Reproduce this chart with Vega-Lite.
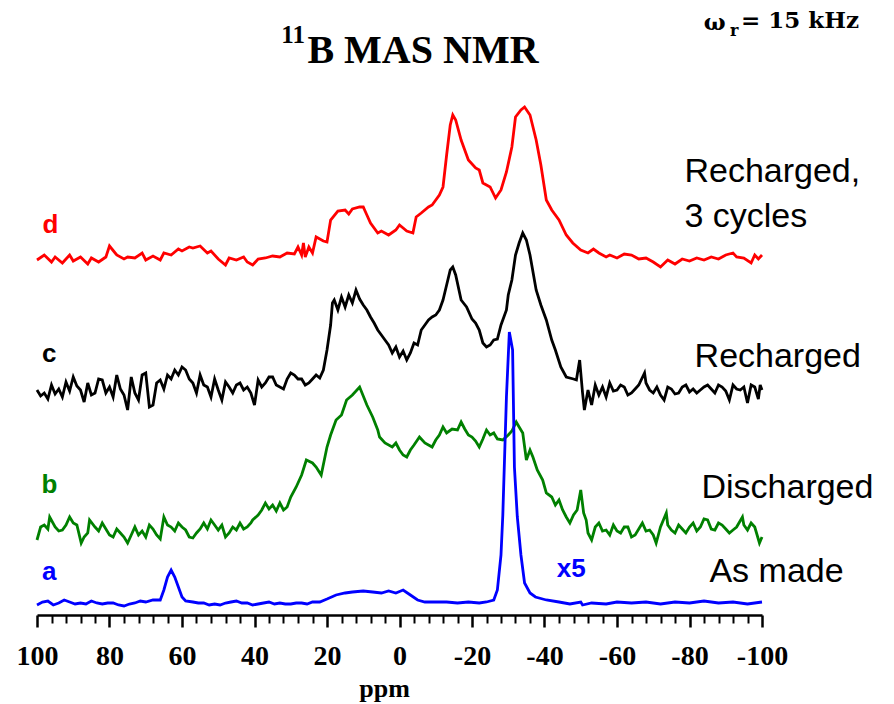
{
  "$schema": "https://vega.github.io/schema/vega-lite/v6.json",
  "width": 725,
  "height": 615,
  "autosize": "none",
  "padding": {"left": 37, "top": 0, "right": 132, "bottom": 89},
  "background": "white",
  "config": {"view": {"stroke": null}},
  "datasets": {
    "spectra": [
      {"s":"d","ppm":100,"h":355},{"s":"d","ppm":98,"h":360},{"s":"d","ppm":96,"h":353},{"s":"d","ppm":95,"h":358},{"s":"d","ppm":93,"h":352},{"s":"d","ppm":91,"h":360},{"s":"d","ppm":90,"h":354},{"s":"d","ppm":88,"h":358},{"s":"d","ppm":86,"h":351},{"s":"d","ppm":85,"h":357},{"s":"d","ppm":83,"h":353},{"s":"d","ppm":81,"h":358},{"s":"d","ppm":80,"h":369},{"s":"d","ppm":78,"h":360},{"s":"d","ppm":76,"h":356},{"s":"d","ppm":75,"h":358},{"s":"d","ppm":73,"h":357},{"s":"d","ppm":71,"h":362},{"s":"d","ppm":70,"h":355},{"s":"d","ppm":68,"h":359},{"s":"d","ppm":66,"h":355},{"s":"d","ppm":65,"h":362},{"s":"d","ppm":63,"h":360},{"s":"d","ppm":61,"h":366},{"s":"d","ppm":60,"h":364},{"s":"d","ppm":58,"h":368},{"s":"d","ppm":57,"h":367},{"s":"d","ppm":55,"h":369},{"s":"d","ppm":53,"h":362},{"s":"d","ppm":52,"h":364},{"s":"d","ppm":50,"h":356},{"s":"d","ppm":48,"h":350},{"s":"d","ppm":47,"h":357},{"s":"d","ppm":45,"h":355},{"s":"d","ppm":43,"h":358},{"s":"d","ppm":42,"h":353},{"s":"d","ppm":40.5,"h":350},{"s":"d","ppm":39,"h":356},{"s":"d","ppm":37,"h":357},{"s":"d","ppm":35,"h":359},{"s":"d","ppm":33,"h":358},{"s":"d","ppm":31,"h":362},{"s":"d","ppm":29,"h":361},{"s":"d","ppm":28,"h":368},{"s":"d","ppm":27,"h":360},{"s":"d","ppm":26.5,"h":372},{"s":"d","ppm":26,"h":358},{"s":"d","ppm":25,"h":368},{"s":"d","ppm":24,"h":362},{"s":"d","ppm":23,"h":378},{"s":"d","ppm":21,"h":374},{"s":"d","ppm":20,"h":373},{"s":"d","ppm":19,"h":395},{"s":"d","ppm":17,"h":404},{"s":"d","ppm":15,"h":405},{"s":"d","ppm":14,"h":401},{"s":"d","ppm":13,"h":406},{"s":"d","ppm":11,"h":408},{"s":"d","ppm":10,"h":408},{"s":"d","ppm":9,"h":400},{"s":"d","ppm":8,"h":392},{"s":"d","ppm":6,"h":382},{"s":"d","ppm":5,"h":384},{"s":"d","ppm":3,"h":380},{"s":"d","ppm":1,"h":385},{"s":"d","ppm":0,"h":390},{"s":"d","ppm":-2,"h":384},{"s":"d","ppm":-3.7,"h":382},{"s":"d","ppm":-4.6,"h":398},{"s":"d","ppm":-6,"h":402},{"s":"d","ppm":-8,"h":408},{"s":"d","ppm":-9,"h":410},{"s":"d","ppm":-11,"h":420},{"s":"d","ppm":-12,"h":428},{"s":"d","ppm":-13,"h":460},{"s":"d","ppm":-14,"h":490},{"s":"d","ppm":-14.7,"h":500},{"s":"d","ppm":-15.5,"h":495},{"s":"d","ppm":-17,"h":475},{"s":"d","ppm":-19,"h":455},{"s":"d","ppm":-21,"h":447},{"s":"d","ppm":-22,"h":445},{"s":"d","ppm":-23,"h":432},{"s":"d","ppm":-25,"h":428},{"s":"d","ppm":-26.5,"h":417},{"s":"d","ppm":-28,"h":425},{"s":"d","ppm":-29.5,"h":443},{"s":"d","ppm":-31,"h":468},{"s":"d","ppm":-32,"h":498},{"s":"d","ppm":-33.5,"h":505},{"s":"d","ppm":-34.5,"h":508},{"s":"d","ppm":-36,"h":500},{"s":"d","ppm":-37.7,"h":475},{"s":"d","ppm":-39,"h":450},{"s":"d","ppm":-40.5,"h":415},{"s":"d","ppm":-42,"h":405},{"s":"d","ppm":-44,"h":395},{"s":"d","ppm":-46,"h":380},{"s":"d","ppm":-47.8,"h":372},{"s":"d","ppm":-50,"h":365},{"s":"d","ppm":-52,"h":362},{"s":"d","ppm":-53.5,"h":366},{"s":"d","ppm":-55,"h":362},{"s":"d","ppm":-57,"h":358},{"s":"d","ppm":-58,"h":360},{"s":"d","ppm":-60,"h":357},{"s":"d","ppm":-62,"h":361},{"s":"d","ppm":-64,"h":360},{"s":"d","ppm":-66,"h":356},{"s":"d","ppm":-68,"h":357},{"s":"d","ppm":-70,"h":353},{"s":"d","ppm":-72,"h":348},{"s":"d","ppm":-74,"h":355},{"s":"d","ppm":-76,"h":351},{"s":"d","ppm":-78,"h":356},{"s":"d","ppm":-80,"h":354},{"s":"d","ppm":-82,"h":357},{"s":"d","ppm":-84,"h":355},{"s":"d","ppm":-86,"h":358},{"s":"d","ppm":-88,"h":356},{"s":"d","ppm":-90,"h":360},{"s":"d","ppm":-92,"h":362},{"s":"d","ppm":-93,"h":358},{"s":"d","ppm":-95,"h":357},{"s":"d","ppm":-97,"h":352},{"s":"d","ppm":-98,"h":360},{"s":"d","ppm":-99,"h":356},{"s":"d","ppm":-100,"h":360},

      {"s":"c","ppm":100,"h":225},{"s":"c","ppm":99,"h":219},{"s":"c","ppm":98,"h":222},{"s":"c","ppm":97,"h":216},{"s":"c","ppm":96,"h":230},{"s":"c","ppm":95,"h":221},{"s":"c","ppm":94,"h":226},{"s":"c","ppm":93,"h":218},{"s":"c","ppm":92,"h":233},{"s":"c","ppm":91,"h":224},{"s":"c","ppm":90,"h":238},{"s":"c","ppm":89,"h":229},{"s":"c","ppm":88,"h":225},{"s":"c","ppm":87,"h":213},{"s":"c","ppm":86,"h":232},{"s":"c","ppm":85,"h":220},{"s":"c","ppm":84,"h":222},{"s":"c","ppm":83,"h":236},{"s":"c","ppm":82,"h":235},{"s":"c","ppm":81,"h":222},{"s":"c","ppm":80,"h":228},{"s":"c","ppm":79,"h":218},{"s":"c","ppm":78,"h":240},{"s":"c","ppm":77,"h":226},{"s":"c","ppm":76,"h":220},{"s":"c","ppm":75,"h":205},{"s":"c","ppm":74,"h":238},{"s":"c","ppm":73,"h":222},{"s":"c","ppm":72,"h":215},{"s":"c","ppm":71,"h":240},{"s":"c","ppm":70,"h":242},{"s":"c","ppm":69,"h":208},{"s":"c","ppm":68,"h":210},{"s":"c","ppm":67,"h":232},{"s":"c","ppm":66,"h":235},{"s":"c","ppm":65,"h":226},{"s":"c","ppm":64,"h":240},{"s":"c","ppm":63,"h":236},{"s":"c","ppm":62,"h":245},{"s":"c","ppm":61,"h":240},{"s":"c","ppm":60,"h":248},{"s":"c","ppm":59,"h":245},{"s":"c","ppm":58,"h":236},{"s":"c","ppm":57,"h":232},{"s":"c","ppm":56,"h":222},{"s":"c","ppm":55,"h":240},{"s":"c","ppm":54,"h":230},{"s":"c","ppm":53,"h":228},{"s":"c","ppm":52,"h":218},{"s":"c","ppm":51,"h":236},{"s":"c","ppm":50,"h":225},{"s":"c","ppm":49,"h":215},{"s":"c","ppm":48,"h":233},{"s":"c","ppm":47,"h":228},{"s":"c","ppm":46,"h":222},{"s":"c","ppm":45,"h":230},{"s":"c","ppm":44,"h":232},{"s":"c","ppm":43,"h":225},{"s":"c","ppm":42,"h":228},{"s":"c","ppm":41,"h":222},{"s":"c","ppm":40,"h":210},{"s":"c","ppm":39,"h":235},{"s":"c","ppm":38,"h":228},{"s":"c","ppm":37,"h":232},{"s":"c","ppm":36,"h":238},{"s":"c","ppm":35,"h":238},{"s":"c","ppm":34,"h":230},{"s":"c","ppm":33,"h":228},{"s":"c","ppm":32,"h":226},{"s":"c","ppm":31,"h":236},{"s":"c","ppm":30,"h":242},{"s":"c","ppm":29,"h":240},{"s":"c","ppm":28,"h":236},{"s":"c","ppm":27,"h":236},{"s":"c","ppm":26,"h":230},{"s":"c","ppm":25,"h":232},{"s":"c","ppm":24,"h":236},{"s":"c","ppm":23,"h":240},{"s":"c","ppm":22,"h":237},{"s":"c","ppm":21,"h":245},{"s":"c","ppm":20,"h":265},{"s":"c","ppm":19,"h":290},{"s":"c","ppm":18.5,"h":312},{"s":"c","ppm":18,"h":315},{"s":"c","ppm":17,"h":305},{"s":"c","ppm":16,"h":318},{"s":"c","ppm":15,"h":308},{"s":"c","ppm":14,"h":320},{"s":"c","ppm":13,"h":312},{"s":"c","ppm":12,"h":325},{"s":"c","ppm":11,"h":316},{"s":"c","ppm":10,"h":310},{"s":"c","ppm":9,"h":305},{"s":"c","ppm":8,"h":298},{"s":"c","ppm":7,"h":292},{"s":"c","ppm":6,"h":285},{"s":"c","ppm":5,"h":280},{"s":"c","ppm":4,"h":275},{"s":"c","ppm":3,"h":270},{"s":"c","ppm":2,"h":262},{"s":"c","ppm":1,"h":268},{"s":"c","ppm":0,"h":258},{"s":"c","ppm":-1,"h":264},{"s":"c","ppm":-2,"h":255},{"s":"c","ppm":-3,"h":262},{"s":"c","ppm":-4,"h":272},{"s":"c","ppm":-5,"h":270},{"s":"c","ppm":-6,"h":285},{"s":"c","ppm":-7,"h":290},{"s":"c","ppm":-8,"h":295},{"s":"c","ppm":-9,"h":298},{"s":"c","ppm":-10,"h":300},{"s":"c","ppm":-11,"h":305},{"s":"c","ppm":-12,"h":315},{"s":"c","ppm":-13,"h":330},{"s":"c","ppm":-14,"h":345},{"s":"c","ppm":-14.7,"h":348},{"s":"c","ppm":-15.5,"h":340},{"s":"c","ppm":-17,"h":315},{"s":"c","ppm":-18.5,"h":308},{"s":"c","ppm":-20,"h":296},{"s":"c","ppm":-21,"h":292},{"s":"c","ppm":-22,"h":285},{"s":"c","ppm":-23,"h":272},{"s":"c","ppm":-24,"h":268},{"s":"c","ppm":-25,"h":270},{"s":"c","ppm":-26,"h":275},{"s":"c","ppm":-27,"h":276},{"s":"c","ppm":-28,"h":290},{"s":"c","ppm":-29.5,"h":305},{"s":"c","ppm":-30,"h":320},{"s":"c","ppm":-31,"h":335},{"s":"c","ppm":-32,"h":360},{"s":"c","ppm":-33,"h":372},{"s":"c","ppm":-34,"h":382},{"s":"c","ppm":-35,"h":375},{"s":"c","ppm":-36,"h":360},{"s":"c","ppm":-37.7,"h":325},{"s":"c","ppm":-39,"h":310},{"s":"c","ppm":-40.5,"h":295},{"s":"c","ppm":-42,"h":275},{"s":"c","ppm":-43,"h":265},{"s":"c","ppm":-44.5,"h":248},{"s":"c","ppm":-46,"h":238},{"s":"c","ppm":-48,"h":236},{"s":"c","ppm":-48.8,"h":235},{"s":"c","ppm":-49.7,"h":255},{"s":"c","ppm":-50.5,"h":222},{"s":"c","ppm":-51,"h":205},{"s":"c","ppm":-52,"h":225},{"s":"c","ppm":-53,"h":210},{"s":"c","ppm":-54,"h":230},{"s":"c","ppm":-55,"h":220},{"s":"c","ppm":-56,"h":228},{"s":"c","ppm":-57,"h":218},{"s":"c","ppm":-58,"h":232},{"s":"c","ppm":-59,"h":224},{"s":"c","ppm":-60,"h":225},{"s":"c","ppm":-61,"h":230},{"s":"c","ppm":-62,"h":228},{"s":"c","ppm":-63,"h":220},{"s":"c","ppm":-64,"h":222},{"s":"c","ppm":-65,"h":226},{"s":"c","ppm":-66,"h":230},{"s":"c","ppm":-67.6,"h":242},{"s":"c","ppm":-68,"h":232},{"s":"c","ppm":-69,"h":225},{"s":"c","ppm":-70,"h":222},{"s":"c","ppm":-71,"h":228},{"s":"c","ppm":-72,"h":220},{"s":"c","ppm":-73,"h":215},{"s":"c","ppm":-74,"h":228},{"s":"c","ppm":-75,"h":226},{"s":"c","ppm":-76,"h":221},{"s":"c","ppm":-77,"h":222},{"s":"c","ppm":-78,"h":228},{"s":"c","ppm":-79,"h":230},{"s":"c","ppm":-80,"h":223},{"s":"c","ppm":-81,"h":226},{"s":"c","ppm":-82,"h":222},{"s":"c","ppm":-83,"h":225},{"s":"c","ppm":-84,"h":228},{"s":"c","ppm":-85,"h":230},{"s":"c","ppm":-86,"h":226},{"s":"c","ppm":-87,"h":222},{"s":"c","ppm":-88,"h":230},{"s":"c","ppm":-89,"h":228},{"s":"c","ppm":-90,"h":224},{"s":"c","ppm":-91,"h":215},{"s":"c","ppm":-92,"h":230},{"s":"c","ppm":-93,"h":226},{"s":"c","ppm":-94,"h":225},{"s":"c","ppm":-95,"h":228},{"s":"c","ppm":-96,"h":212},{"s":"c","ppm":-97,"h":230},{"s":"c","ppm":-98,"h":228},{"s":"c","ppm":-99,"h":216},{"s":"c","ppm":-99.5,"h":230},{"s":"c","ppm":-100,"h":225},

      {"s":"b","ppm":100,"h":75},{"s":"b","ppm":99,"h":88},{"s":"b","ppm":98,"h":90},{"s":"b","ppm":97,"h":86},{"s":"b","ppm":96.5,"h":98},{"s":"b","ppm":95,"h":88},{"s":"b","ppm":94,"h":84},{"s":"b","ppm":93,"h":85},{"s":"b","ppm":92,"h":90},{"s":"b","ppm":91,"h":98},{"s":"b","ppm":90,"h":92},{"s":"b","ppm":89,"h":90},{"s":"b","ppm":87.8,"h":72},{"s":"b","ppm":87,"h":78},{"s":"b","ppm":86,"h":82},{"s":"b","ppm":85.5,"h":95},{"s":"b","ppm":84,"h":88},{"s":"b","ppm":83,"h":84},{"s":"b","ppm":82,"h":92},{"s":"b","ppm":81,"h":86},{"s":"b","ppm":80,"h":80},{"s":"b","ppm":79,"h":78},{"s":"b","ppm":78,"h":86},{"s":"b","ppm":77,"h":82},{"s":"b","ppm":76,"h":78},{"s":"b","ppm":75,"h":72},{"s":"b","ppm":74,"h":80},{"s":"b","ppm":73,"h":88},{"s":"b","ppm":72,"h":80},{"s":"b","ppm":71,"h":84},{"s":"b","ppm":70,"h":78},{"s":"b","ppm":69,"h":90},{"s":"b","ppm":68,"h":86},{"s":"b","ppm":67,"h":80},{"s":"b","ppm":66,"h":76},{"s":"b","ppm":65,"h":98},{"s":"b","ppm":64,"h":90},{"s":"b","ppm":63,"h":88},{"s":"b","ppm":62,"h":84},{"s":"b","ppm":61,"h":92},{"s":"b","ppm":60,"h":88},{"s":"b","ppm":59,"h":85},{"s":"b","ppm":58,"h":78},{"s":"b","ppm":57,"h":77},{"s":"b","ppm":56,"h":82},{"s":"b","ppm":55,"h":86},{"s":"b","ppm":54,"h":92},{"s":"b","ppm":53,"h":86},{"s":"b","ppm":52,"h":95},{"s":"b","ppm":51,"h":90},{"s":"b","ppm":50,"h":85},{"s":"b","ppm":49,"h":90},{"s":"b","ppm":48,"h":78},{"s":"b","ppm":47,"h":82},{"s":"b","ppm":46,"h":88},{"s":"b","ppm":45,"h":85},{"s":"b","ppm":44,"h":92},{"s":"b","ppm":43,"h":86},{"s":"b","ppm":42,"h":88},{"s":"b","ppm":41,"h":92},{"s":"b","ppm":40.5,"h":95},{"s":"b","ppm":39,"h":100},{"s":"b","ppm":38,"h":105},{"s":"b","ppm":37,"h":112},{"s":"b","ppm":36,"h":106},{"s":"b","ppm":35,"h":110},{"s":"b","ppm":34,"h":104},{"s":"b","ppm":33,"h":112},{"s":"b","ppm":32,"h":105},{"s":"b","ppm":31,"h":108},{"s":"b","ppm":30,"h":118},{"s":"b","ppm":28.5,"h":128},{"s":"b","ppm":27,"h":140},{"s":"b","ppm":25.7,"h":155},{"s":"b","ppm":24,"h":152},{"s":"b","ppm":23,"h":148},{"s":"b","ppm":21.6,"h":140},{"s":"b","ppm":20,"h":168},{"s":"b","ppm":19,"h":180},{"s":"b","ppm":17.5,"h":195},{"s":"b","ppm":16,"h":200},{"s":"b","ppm":14.6,"h":215},{"s":"b","ppm":13,"h":220},{"s":"b","ppm":11,"h":228},{"s":"b","ppm":9,"h":210},{"s":"b","ppm":7.4,"h":198},{"s":"b","ppm":6,"h":185},{"s":"b","ppm":5.5,"h":178},{"s":"b","ppm":4,"h":172},{"s":"b","ppm":2,"h":168},{"s":"b","ppm":1,"h":172},{"s":"b","ppm":0,"h":165},{"s":"b","ppm":-1,"h":160},{"s":"b","ppm":-2,"h":158},{"s":"b","ppm":-3,"h":165},{"s":"b","ppm":-4,"h":170},{"s":"b","ppm":-5.5,"h":178},{"s":"b","ppm":-7,"h":172},{"s":"b","ppm":-8,"h":170},{"s":"b","ppm":-9,"h":168},{"s":"b","ppm":-10,"h":175},{"s":"b","ppm":-11,"h":180},{"s":"b","ppm":-12,"h":188},{"s":"b","ppm":-13,"h":182},{"s":"b","ppm":-14.5,"h":186},{"s":"b","ppm":-16,"h":185},{"s":"b","ppm":-17,"h":193},{"s":"b","ppm":-18,"h":186},{"s":"b","ppm":-19,"h":180},{"s":"b","ppm":-20,"h":178},{"s":"b","ppm":-21,"h":174},{"s":"b","ppm":-22,"h":168},{"s":"b","ppm":-23,"h":176},{"s":"b","ppm":-24,"h":185},{"s":"b","ppm":-25,"h":180},{"s":"b","ppm":-26,"h":182},{"s":"b","ppm":-27,"h":176},{"s":"b","ppm":-28.5,"h":175},{"s":"b","ppm":-30,"h":180},{"s":"b","ppm":-31,"h":184},{"s":"b","ppm":-32.2,"h":193},{"s":"b","ppm":-33,"h":188},{"s":"b","ppm":-34,"h":182},{"s":"b","ppm":-35,"h":155},{"s":"b","ppm":-36,"h":165},{"s":"b","ppm":-36.8,"h":158},{"s":"b","ppm":-38,"h":145},{"s":"b","ppm":-39.5,"h":135},{"s":"b","ppm":-40.5,"h":122},{"s":"b","ppm":-42,"h":118},{"s":"b","ppm":-43,"h":110},{"s":"b","ppm":-44,"h":115},{"s":"b","ppm":-45,"h":105},{"s":"b","ppm":-46,"h":98},{"s":"b","ppm":-47,"h":92},{"s":"b","ppm":-48,"h":100},{"s":"b","ppm":-49,"h":105},{"s":"b","ppm":-50,"h":125},{"s":"b","ppm":-50.8,"h":102},{"s":"b","ppm":-51.5,"h":95},{"s":"b","ppm":-52,"h":82},{"s":"b","ppm":-53,"h":75},{"s":"b","ppm":-54,"h":88},{"s":"b","ppm":-55,"h":92},{"s":"b","ppm":-56,"h":84},{"s":"b","ppm":-57,"h":85},{"s":"b","ppm":-58,"h":80},{"s":"b","ppm":-59,"h":90},{"s":"b","ppm":-60,"h":84},{"s":"b","ppm":-61,"h":82},{"s":"b","ppm":-62,"h":88},{"s":"b","ppm":-63,"h":88},{"s":"b","ppm":-64,"h":78},{"s":"b","ppm":-65,"h":80},{"s":"b","ppm":-66,"h":86},{"s":"b","ppm":-67,"h":92},{"s":"b","ppm":-68,"h":84},{"s":"b","ppm":-69,"h":85},{"s":"b","ppm":-70,"h":80},{"s":"b","ppm":-70.8,"h":72},{"s":"b","ppm":-72,"h":88},{"s":"b","ppm":-73.6,"h":102},{"s":"b","ppm":-74,"h":90},{"s":"b","ppm":-75,"h":85},{"s":"b","ppm":-76,"h":82},{"s":"b","ppm":-77,"h":90},{"s":"b","ppm":-78,"h":86},{"s":"b","ppm":-79,"h":82},{"s":"b","ppm":-80,"h":88},{"s":"b","ppm":-81,"h":92},{"s":"b","ppm":-82,"h":84},{"s":"b","ppm":-83,"h":88},{"s":"b","ppm":-84,"h":96},{"s":"b","ppm":-85,"h":95},{"s":"b","ppm":-86,"h":86},{"s":"b","ppm":-87,"h":85},{"s":"b","ppm":-88,"h":92},{"s":"b","ppm":-89,"h":90},{"s":"b","ppm":-90,"h":86},{"s":"b","ppm":-91,"h":82},{"s":"b","ppm":-92,"h":85},{"s":"b","ppm":-93,"h":88},{"s":"b","ppm":-94.6,"h":98},{"s":"b","ppm":-95,"h":90},{"s":"b","ppm":-96,"h":85},{"s":"b","ppm":-97,"h":92},{"s":"b","ppm":-98,"h":88},{"s":"b","ppm":-99.3,"h":72},{"s":"b","ppm":-100,"h":78},

      {"s":"a","ppm":100,"h":10},{"s":"a","ppm":98.5,"h":13},{"s":"a","ppm":97,"h":14},{"s":"a","ppm":95.5,"h":10},{"s":"a","ppm":94,"h":12},{"s":"a","ppm":92.5,"h":15},{"s":"a","ppm":91,"h":13},{"s":"a","ppm":89.5,"h":11},{"s":"a","ppm":88,"h":12},{"s":"a","ppm":86.5,"h":11},{"s":"a","ppm":85,"h":14},{"s":"a","ppm":83.5,"h":12},{"s":"a","ppm":82,"h":11},{"s":"a","ppm":80.5,"h":12},{"s":"a","ppm":79,"h":12},{"s":"a","ppm":77.5,"h":10},{"s":"a","ppm":76,"h":9},{"s":"a","ppm":74.5,"h":11},{"s":"a","ppm":73,"h":12},{"s":"a","ppm":71.5,"h":14},{"s":"a","ppm":70,"h":13},{"s":"a","ppm":68,"h":15},{"s":"a","ppm":66,"h":15},{"s":"a","ppm":65,"h":25},{"s":"a","ppm":64,"h":38},{"s":"a","ppm":63,"h":45},{"s":"a","ppm":62,"h":38},{"s":"a","ppm":61,"h":28},{"s":"a","ppm":60,"h":18},{"s":"a","ppm":59,"h":14},{"s":"a","ppm":57,"h":13},{"s":"a","ppm":55.5,"h":12},{"s":"a","ppm":54,"h":12},{"s":"a","ppm":52.5,"h":10},{"s":"a","ppm":51,"h":11},{"s":"a","ppm":49.5,"h":10},{"s":"a","ppm":48,"h":12},{"s":"a","ppm":46.5,"h":13},{"s":"a","ppm":45,"h":14},{"s":"a","ppm":43.5,"h":12},{"s":"a","ppm":42,"h":12},{"s":"a","ppm":40.5,"h":10},{"s":"a","ppm":39,"h":11},{"s":"a","ppm":37.5,"h":12},{"s":"a","ppm":36,"h":13},{"s":"a","ppm":34.5,"h":11},{"s":"a","ppm":33,"h":12},{"s":"a","ppm":31.5,"h":11},{"s":"a","ppm":30,"h":11},{"s":"a","ppm":28.5,"h":12},{"s":"a","ppm":27,"h":12},{"s":"a","ppm":25.5,"h":11},{"s":"a","ppm":24,"h":13},{"s":"a","ppm":22,"h":13},{"s":"a","ppm":20,"h":16},{"s":"a","ppm":17.5,"h":20},{"s":"a","ppm":15,"h":22},{"s":"a","ppm":13,"h":23},{"s":"a","ppm":10,"h":24},{"s":"a","ppm":7.4,"h":23},{"s":"a","ppm":5,"h":22},{"s":"a","ppm":3,"h":24},{"s":"a","ppm":1,"h":22},{"s":"a","ppm":-1,"h":25},{"s":"a","ppm":-3,"h":20},{"s":"a","ppm":-5,"h":15},{"s":"a","ppm":-7,"h":13},{"s":"a","ppm":-10,"h":13},{"s":"a","ppm":-13,"h":13},{"s":"a","ppm":-16,"h":12},{"s":"a","ppm":-19,"h":13},{"s":"a","ppm":-22,"h":12},{"s":"a","ppm":-24,"h":13},{"s":"a","ppm":-26,"h":15},{"s":"a","ppm":-27,"h":25},{"s":"a","ppm":-28,"h":60},{"s":"a","ppm":-28.5,"h":100},{"s":"a","ppm":-29.5,"h":218},{"s":"a","ppm":-30.3,"h":283},{"s":"a","ppm":-31.2,"h":265},{"s":"a","ppm":-31.7,"h":148},{"s":"a","ppm":-32.5,"h":98},{"s":"a","ppm":-33.5,"h":60},{"s":"a","ppm":-34.5,"h":32},{"s":"a","ppm":-36,"h":22},{"s":"a","ppm":-37.5,"h":18},{"s":"a","ppm":-40.5,"h":15},{"s":"a","ppm":-44,"h":13},{"s":"a","ppm":-47,"h":11},{"s":"a","ppm":-50,"h":13},{"s":"a","ppm":-50.5,"h":10},{"s":"a","ppm":-53,"h":12},{"s":"a","ppm":-57,"h":11},{"s":"a","ppm":-60,"h":13},{"s":"a","ppm":-64,"h":12},{"s":"a","ppm":-68,"h":13},{"s":"a","ppm":-72,"h":11},{"s":"a","ppm":-76,"h":13},{"s":"a","ppm":-80,"h":12},{"s":"a","ppm":-84,"h":14},{"s":"a","ppm":-88,"h":12},{"s":"a","ppm":-92,"h":13},{"s":"a","ppm":-96,"h":11},{"s":"a","ppm":-100,"h":13}
    ],
    "letters": [
      {"s":"d","ppm":96.3,"h":382,"text":"d"},
      {"s":"c","ppm":96.6,"h":253,"text":"c"},
      {"s":"b","ppm":96.6,"h":122,"text":"b"},
      {"s":"a","ppm":96.6,"h":35,"text":"a"},
      {"s":"a","ppm":-47.4,"h":38,"text":"x5"}
    ],
    "names": [
      {"ppm":-78.6,"h":433,"text":"Recharged,"},
      {"ppm":-78.6,"h":388,"text":"3 cycles"},
      {"ppm":-81.4,"h":248,"text":"Recharged"},
      {"ppm":-83.3,"h":117,"text":"Discharged"},
      {"ppm":-85.5,"h":33,"text":"As made"}
    ],
    "titleMain": [{"ppm":25.4,"h":552,"text":"B MAS NMR"}],
    "titleSup": [{"ppm":32.6,"h":572,"text":"11"}],
    "spin": [
      {"ppm":-83.9,"h":585,"text":"ω"},
      {"ppm":-94.2,"h":587,"text":"= 15 kHz"}
    ],
    "spinSub": [{"ppm":-91.2,"h":579,"text":"r"}]
  },
  "encoding": {
    "x": {
      "field": "ppm", "type": "quantitative",
      "scale": {"domain": [-100, 100], "reverse": true, "nice": false, "zero": false},
      "axis": {
        "title": "ppm",
        "values": [100,96,92,88,84,80,76,72,68,64,60,56,52,48,44,40,36,32,28,24,20,16,12,8,4,0,-4,-8,-12,-16,-20,-24,-28,-32,-36,-40,-44,-48,-52,-56,-60,-64,-68,-72,-76,-80,-84,-88,-92,-96,-100],
        "labelExpr": "datum.value % 20 === 0 ? (datum.value < 0 ? '-' + abs(datum.value) : '' + datum.value) : ''",
        "tickSize": {"condition": {"test": "datum.value % 20 === 0", "value": 12}, "value": 8},
        "tickWidth": {"condition": {"test": "datum.value % 20 === 0", "value": 2.5}, "value": 2},
        "tickColor": "black",
        "domainColor": "black",
        "domainWidth": 2.5,
        "grid": false,
        "labelOverlap": false,
        "labelFlush": false,
        "labelBound": false,
        "labelFont": "Liberation Serif",
        "labelFontWeight": "bold",
        "labelFontSize": 28,
        "labelColor": "black",
        "labelPadding": 15,
        "titleFont": "Liberation Serif",
        "titleFontWeight": "bold",
        "titleFontSize": 26,
        "titleColor": "black",
        "titlePadding": 5,
        "titleX": 347
      }
    },
    "y": {
      "field": "h", "type": "quantitative",
      "scale": {"domain": [0, 615], "nice": false, "zero": false},
      "axis": null
    }
  },
  "layer": [
    {
      "data": {"name": "spectra"},
      "mark": {"type": "line", "strokeWidth": 2.8, "clip": false},
      "encoding": {
        "color": {
          "field": "s", "type": "nominal", "legend": null,
          "scale": {"domain": ["a", "b", "c", "d"], "range": ["#0000ff", "#008000", "#000000", "#ff0000"]}
        }
      }
    },
    {
      "data": {"name": "letters"},
      "mark": {"type": "text", "font": "Liberation Sans", "fontWeight": "bold", "fontSize": 26, "align": "center", "baseline": "alphabetic"},
      "encoding": {
        "text": {"field": "text"},
        "color": {"field": "s", "type": "nominal", "legend": null}
      }
    },
    {
      "data": {"name": "names"},
      "mark": {"type": "text", "font": "Liberation Sans", "fontSize": 34, "align": "left", "baseline": "alphabetic", "color": "black"},
      "encoding": {"text": {"field": "text"}}
    },
    {
      "data": {"name": "titleMain"},
      "mark": {"type": "text", "font": "Liberation Serif", "fontWeight": "bold", "fontSize": 40, "align": "left", "baseline": "alphabetic", "color": "black"},
      "encoding": {"text": {"field": "text"}}
    },
    {
      "data": {"name": "titleSup"},
      "mark": {"type": "text", "font": "Liberation Serif", "fontWeight": "bold", "fontSize": 25, "align": "left", "baseline": "alphabetic", "color": "black"},
      "encoding": {"text": {"field": "text"}}
    },
    {
      "data": {"name": "spin"},
      "mark": {"type": "text", "font": "DejaVu Serif", "fontWeight": "bold", "fontSize": 23, "align": "left", "baseline": "alphabetic", "color": "black"},
      "encoding": {"text": {"field": "text"}}
    },
    {
      "data": {"name": "spinSub"},
      "mark": {"type": "text", "font": "DejaVu Serif", "fontWeight": "bold", "fontSize": 16, "align": "left", "baseline": "alphabetic", "color": "black"},
      "encoding": {"text": {"field": "text"}}
    }
  ]
}
